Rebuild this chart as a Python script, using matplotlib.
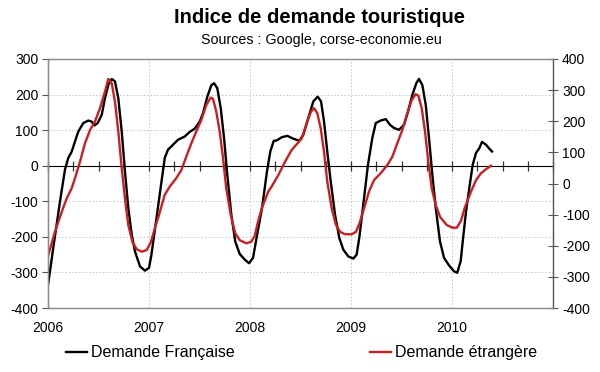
import matplotlib
matplotlib.use("Agg")
import matplotlib.pyplot as plt
import numpy as np

plt.rcParams['font.family'] = ['Liberation Sans', 'DejaVu Sans']
plt.rcParams['axes.unicode_minus'] = False

# Demande Française (axe de gauche), dates en années décimales
fr_dates = [2006.003, 2006.052, 2006.119, 2006.168, 2006.201, 2006.235, 2006.267, 2006.300,
            2006.350, 2006.399, 2006.433, 2006.458, 2006.492, 2006.532, 2006.564, 2006.597,
            2006.631, 2006.663, 2006.696, 2006.730, 2006.762, 2006.795, 2006.829, 2006.861,
            2006.911, 2006.960, 2007.000, 2007.023, 2007.056, 2007.106, 2007.156, 2007.188,
            2007.238, 2007.287, 2007.353, 2007.403, 2007.452, 2007.502, 2007.535, 2007.577,
            2007.617, 2007.644, 2007.676, 2007.710, 2007.743, 2007.775, 2007.815, 2007.854,
            2007.898, 2007.948, 2007.990, 2008.030, 2008.054, 2008.119, 2008.168, 2008.201,
            2008.235, 2008.264, 2008.314, 2008.369, 2008.429, 2008.488, 2008.528, 2008.577,
            2008.627, 2008.670, 2008.703, 2008.733, 2008.765, 2008.799, 2008.842, 2008.884,
            2008.924, 2008.973, 2009.023, 2009.056, 2009.084, 2009.129, 2009.168, 2009.211,
            2009.245, 2009.294, 2009.344, 2009.386, 2009.426, 2009.475, 2009.525, 2009.564,
            2009.607, 2009.647, 2009.673, 2009.706, 2009.740, 2009.772, 2009.805, 2009.839,
            2009.881, 2009.921, 2009.970, 2010.020, 2010.052, 2010.086, 2010.106, 2010.139,
            2010.171, 2010.205, 2010.238, 2010.270, 2010.297, 2010.337, 2010.369, 2010.396]
fr_values = [-330, -231, -100, -11, 22, 40, 68, 96,
             120, 127, 124, 113, 120, 143, 190, 227,
             244, 237, 190, 96, -16, -119, -194, -241,
             -283, -295, -287, -252, -185, -81, 22, 45,
             59, 73, 82, 95, 104, 124, 148, 194,
             226, 232, 218, 162, 78, -25, -138, -213,
             -248, -264, -274, -259, -220, -119, -16, 40,
             70, 71, 80, 84, 76, 70, 87, 134,
             181, 194, 181, 124, 40, -44, -138, -203,
             -236, -255, -261, -250, -198, -91, 3, 78,
             120, 127, 131, 115, 106, 101, 115, 152,
             199, 232, 244, 227, 171, 78, -25, -119,
             -213, -259, -280, -297, -301, -268, -213, -128,
             -63, 3, 36, 49, 67, 59, 48, 40]

# Demande étrangère (axe de droite)
et_dates = [2006.003, 2006.069, 2006.136, 2006.185, 2006.235, 2006.267, 2006.317, 2006.366,
            2006.416, 2006.465, 2006.515, 2006.564, 2006.597, 2006.631, 2006.663, 2006.696,
            2006.730, 2006.762, 2006.795, 2006.835, 2006.878, 2006.928, 2006.977, 2007.020,
            2007.062, 2007.099, 2007.155, 2007.205, 2007.270, 2007.320, 2007.369, 2007.419,
            2007.468, 2007.518, 2007.567, 2007.611, 2007.634, 2007.666, 2007.700, 2007.733,
            2007.765, 2007.809, 2007.854, 2007.898, 2007.963, 2008.013, 2008.047, 2008.079,
            2008.116, 2008.181, 2008.214, 2008.280, 2008.347, 2008.413, 2008.462, 2008.512,
            2008.561, 2008.604, 2008.634, 2008.666, 2008.700, 2008.733, 2008.765, 2008.809,
            2008.851, 2008.891, 2008.941, 2009.007, 2009.050, 2009.084, 2009.129, 2009.178,
            2009.228, 2009.294, 2009.359, 2009.409, 2009.458, 2009.508, 2009.558, 2009.601,
            2009.640, 2009.667, 2009.700, 2009.733, 2009.765, 2009.799, 2009.839, 2009.881,
            2009.947, 2010.003, 2010.047, 2010.089, 2010.124, 2010.188, 2010.238, 2010.287,
            2010.337, 2010.386]
et_values = [-230, -155, -91, -48, -15, 17, 70, 129,
             172, 199, 242, 295, 336, 322, 263, 167,
             49, -48, -133, -187, -211, -219, -214, -187,
             -139, -101, -37, -10, 17, 43, 86, 129,
             167, 204, 252, 276, 272, 231, 167, 81,
             -15, -101, -160, -182, -192, -187, -168, -123,
             -80, -26, -10, 27, 70, 108, 126, 145,
             194, 231, 242, 226, 177, 102, 6, -80,
             -133, -155, -163, -163, -155, -128, -80, -26,
             11, 33, 59, 86, 129, 172, 226, 268,
             287, 282, 242, 167, 70, -15, -69, -107,
             -133, -142, -142, -120, -80, -26, 11, 33,
             46, 57]

years = [2006, 2007, 2008, 2009, 2010]
year_labels = ['2006', '2007', '2008', '2009', '2010']

fig = plt.figure(figsize=(6, 3.72), dpi=100)
ax = fig.add_axes([0.08, 0.172, 0.8417, 0.6694])
ax2 = ax.twinx()

frame = '#8c8c8c'
grid_kw = dict(color='#c4c4c4', linestyle=(0, (1.5, 2)), linewidth=0.7)

ax.set_xlim(2006, 2011)
ax.set_ylim(-400, 300)
ax2.set_ylim(-400, 400)

for v in range(-300, 300, 100):
    ax.axhline(v, zorder=0, **grid_kw)
for y in years[1:]:
    ax.axvline(y, zorder=0, **grid_kw)

ax.plot(fr_dates, fr_values, color='black', linewidth=1.7, label='Demande Française')
ax2.plot(et_dates, et_values, color='#cc1e1e', linewidth=1.7, label='Demande étrangère')

ax.set_yticks(range(-400, 301, 100))
ax2.set_yticks(range(-400, 401, 100))
ax.set_xticks(years)
ax.set_xticklabels(year_labels)
ax.tick_params(axis='x', length=0, pad=9, labelsize=10)
ax.tick_params(axis='y', direction='out', length=4, color='#555555', labelsize=10, pad=3)
ax2.tick_params(axis='y', direction='inout', length=7, color='#555555', labelsize=10, pad=3)

for a in (ax, ax2):
    for s in a.spines.values():
        s.set_color(frame)
        s.set_linewidth(0.9)
ax.spines['left'].set_color('#555555')
ax2.spines['right'].set_color('#555555')

# axe des abscisses sur la ligne zéro, graduations trimestrielles
zero = ax.secondary_xaxis(4 / 7)
zero.set_xticks(np.arange(2006, 2011.01, 0.25))
zero.tick_params(direction='inout', length=7, color='#333333', width=0.9,
                 labelbottom=False, labeltop=False)
zero.spines['bottom'].set_color('#333333')
zero.spines['bottom'].set_linewidth(0.9)

fig.text(0.533, 0.952, 'Indice de demande touristique', ha='center', va='center',
         fontsize=14.5, fontweight='bold')
fig.text(0.535, 0.892, 'Sources : Google, corse-economie.eu', ha='center', va='center',
         fontsize=10.3)

h1, l1 = ax.get_legend_handles_labels()
h2, l2 = ax2.get_legend_handles_labels()
fig.legend(h1 + h2, l1 + l2, loc='center', bbox_to_anchor=(0.503, 0.052), ncol=2,
           frameon=False, fontsize=11.5, handlelength=1.3, handletextpad=0.25,
           columnspacing=8.5)

fig.savefig('out.png', dpi=100)
